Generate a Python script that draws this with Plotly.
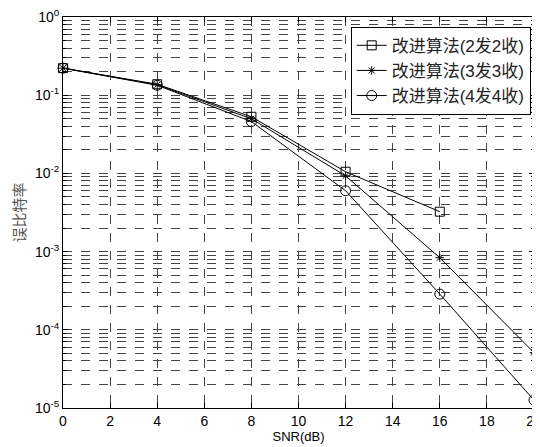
import plotly.graph_objects as go

snr_db = [0, 4, 8, 12, 16, 20]
ber_2x2 = [0.222, 0.138, 0.053, 0.0105, 0.00324]
ber_3x3 = [0.222, 0.136, 0.050, 0.0093, 0.000835, 5.1e-5]
ber_4x4 = [0.222, 0.134, 0.046, 0.0060, 0.000286, 1.26e-5]
names = ["改进算法(2发2收)", "改进算法(3发3收)", "改进算法(4发4收)"]
symbols = ["square-open", "asterisk-open", "circle-open"]
sizes = [9, 7, 10]
ytick_vals = [1e-5, 1e-4, 1e-3, 1e-2, 1e-1, 1]
ytick_text = ["10<sup>-5</sup>", "10<sup>-4</sup>", "10<sup>-3</sup>", "10<sup>-2</sup>", "10<sup>-1</sup>", "10<sup>0</sup>"]

fig = go.Figure()
for ys, nm, sym, sz in zip([ber_2x2, ber_3x3, ber_4x4], names, symbols, sizes):
    fig.add_trace(go.Scatter(
        x=snr_db[:len(ys)], y=ys, name=nm, mode="lines+markers",
        line=dict(color="black", width=1),
        marker=dict(symbol=sym, size=sz, color="black", line=dict(color="black", width=1)),
        cliponaxis=False,
    ))

grid_col = "#444444"
fig.update_layout(
    width=532, height=439,
    margin=dict(l=55, r=6, t=9, b=39, autoexpand=False),
    paper_bgcolor="white", plot_bgcolor="white",
    font=dict(family="Liberation Sans, Arial, Noto Sans CJK SC", size=14, color="black"),
    legend=dict(
        x=0.993, y=0.975, xanchor="right", yanchor="top",
        bgcolor="white", bordercolor="black", borderwidth=1,
        font=dict(family="Liberation Sans, Noto Sans CJK SC", size=17, color="#222"),
        tracegroupgap=0, itemsizing="trace",
    ),
    showlegend=True,
)
fig.update_xaxes(
    range=[0, 20], tickvals=list(range(0, 21, 2)),
    showline=True, linecolor="black", linewidth=1, mirror="ticks",
    ticks="inside", ticklen=5, tickcolor="black",
    showgrid=True, gridcolor=grid_col, griddash="dash", gridwidth=1,
    zeroline=False, automargin=False, ticklabeloverflow="allow",
    title=dict(text="SNR(dB)", standoff=0, font=dict(size=13)),
)
fig.update_yaxes(
    type="log", range=[-5, 0],
    tickvals=ytick_vals, ticktext=ytick_text,
    showline=True, linecolor="black", linewidth=1, mirror="ticks",
    ticks="inside", ticklen=5, tickcolor="black",
    showgrid=True, gridcolor=grid_col, griddash="dash", gridwidth=1,
    minor=dict(dtick="D1", showgrid=True, gridcolor=grid_col, griddash="dash",
               ticks="inside", ticklen=3, tickcolor="black"),
    zeroline=False, automargin=False, ticklabeloverflow="allow",
    title=dict(text="误比特率", standoff=10, font=dict(family="Noto Sans CJK SC", size=15, color="#555")),
)
fig.write_html("out.html")
